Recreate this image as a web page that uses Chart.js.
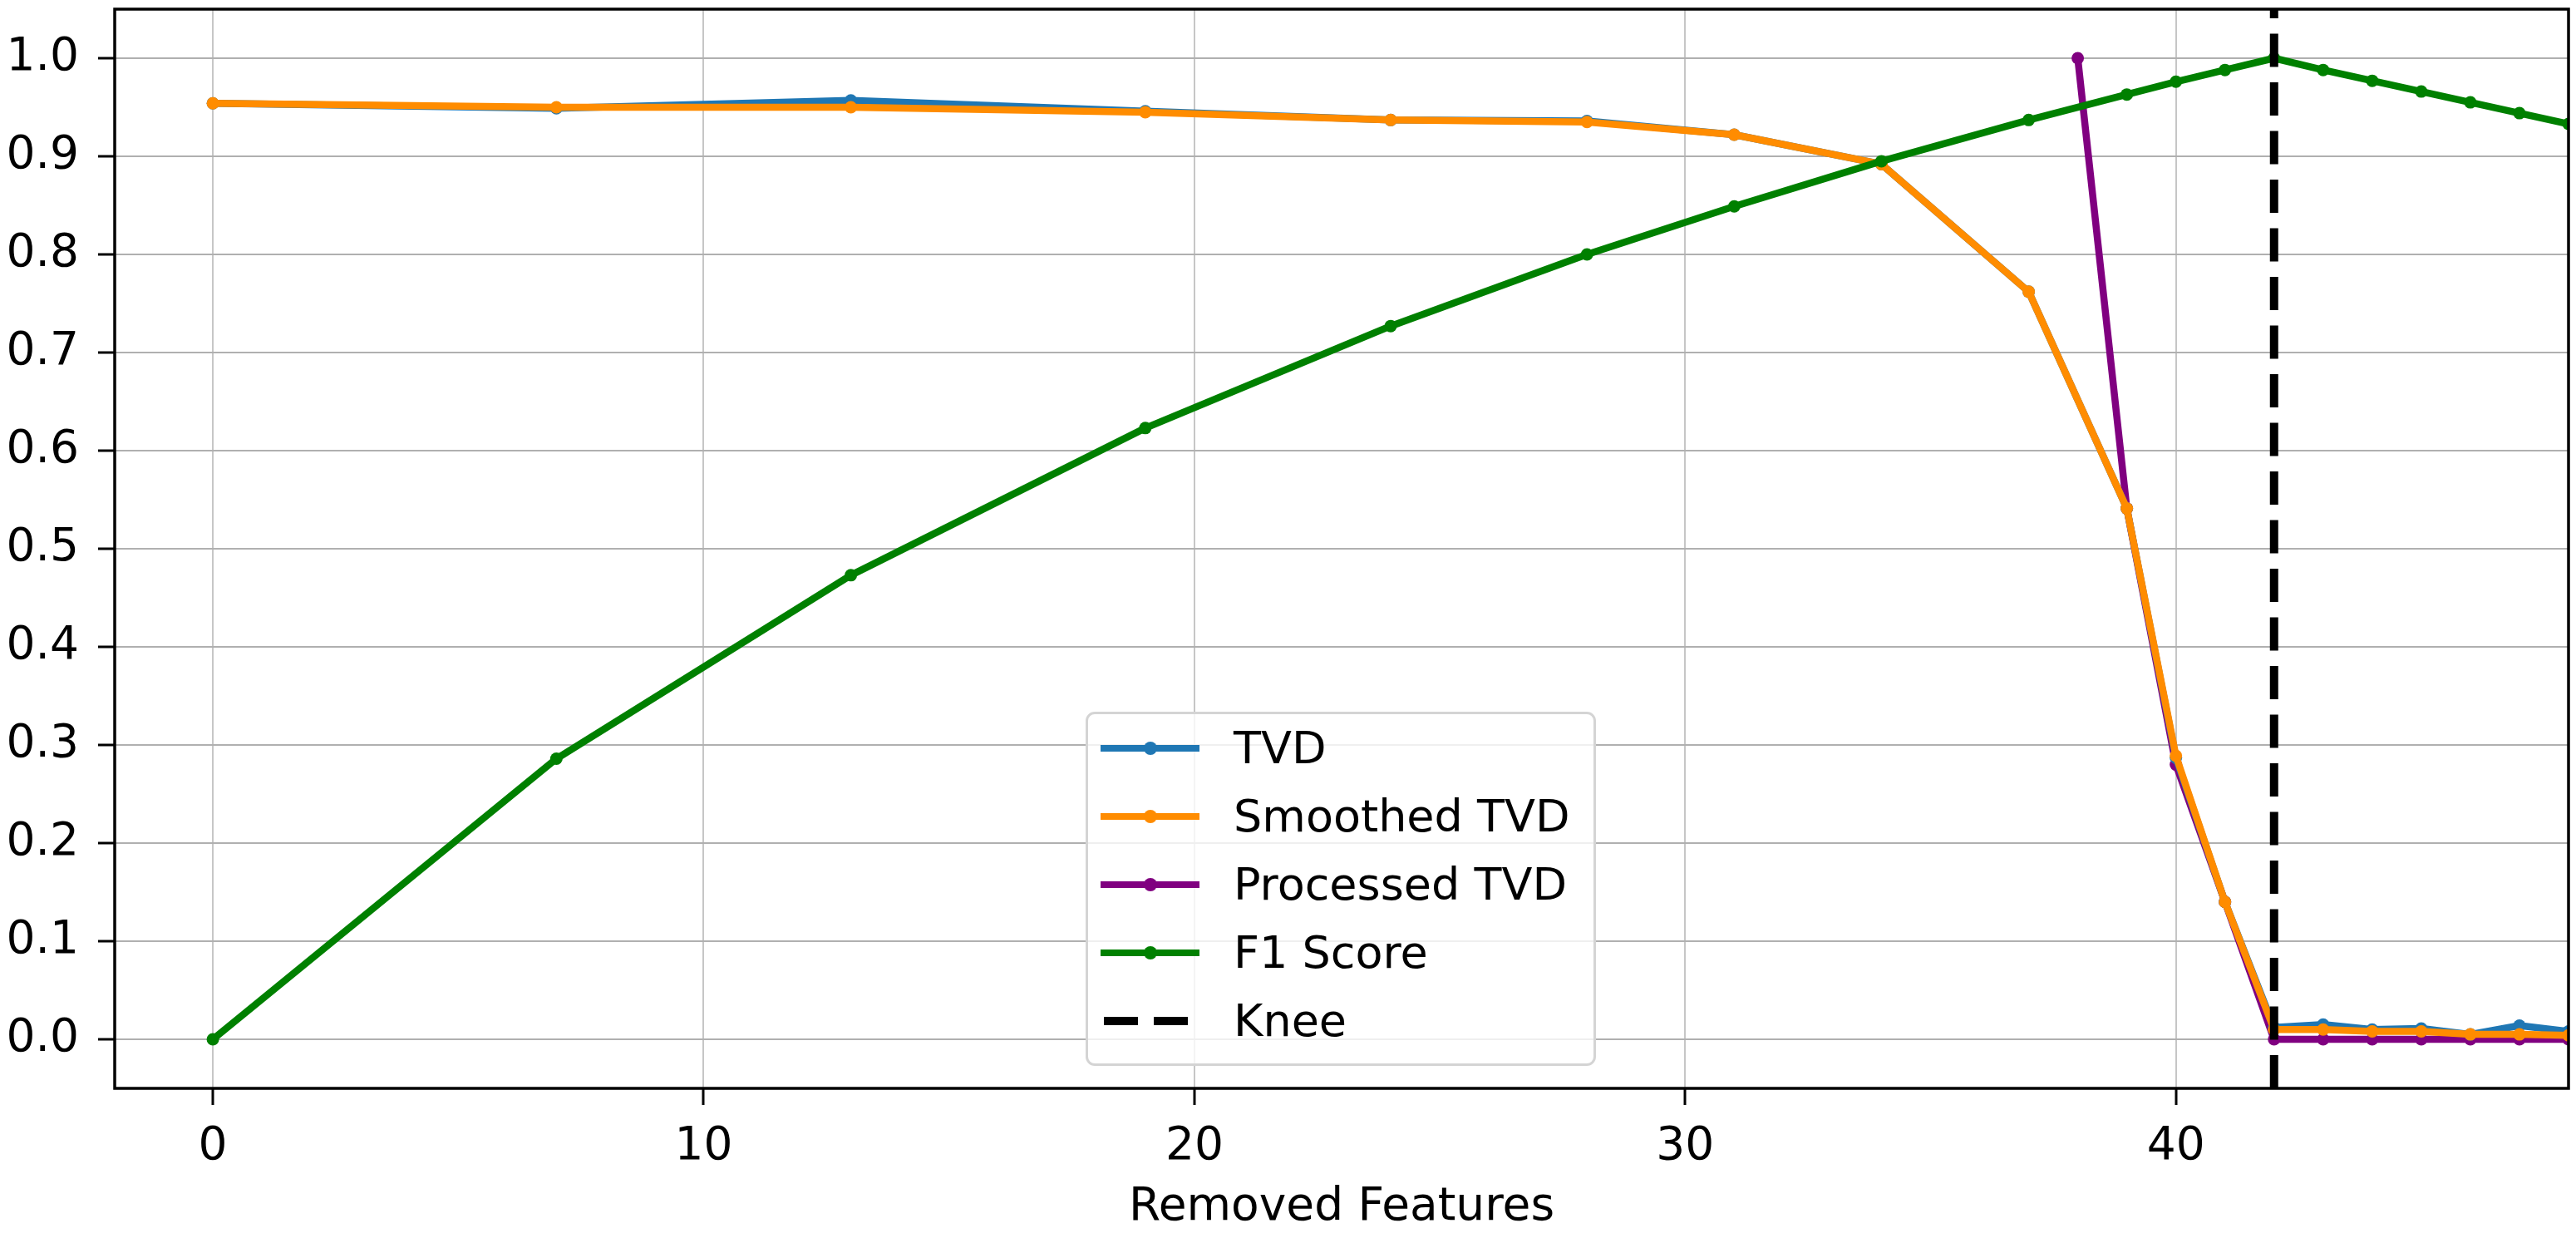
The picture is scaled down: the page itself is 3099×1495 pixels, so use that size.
<!DOCTYPE html>
<html>
<head>
<meta charset="utf-8">
<script src="https://cdn.jsdelivr.net/npm/chart.js@4.4.1/dist/chart.umd.min.js"></script>
<style>
    body { margin: 0; background: #fff; }
    #wrap { position: relative; width: 3099px; height: 1495px; }
    #legend {
        position: absolute; left: 1306px; top: 856px; width: 608px; height: 420px;
        border: 3px solid #d4d4d4; border-radius: 11px; background: rgba(255, 255, 255, 0.8);
        font-family: "DejaVu Sans"; font-size: 54px; color: #000;
    }
    .row { position: absolute; left: 0; width: 100%; height: 82px; }
    .sample { position: absolute; left: 15px; top: 37px; width: 119px; height: 8px; }
    .dot { position: absolute; left: 52px; top: -4px; width: 16px; height: 16px; border-radius: 50%; }
    .label { position: absolute; left: 175px; top: 0; line-height: 82px; white-space: nowrap; }
</style>
</head>
<body>
<div id="wrap">
    <canvas id="kneeChart" width="3099" height="1495"></canvas>
    <div id="legend"></div>
</div>
<script>
// values
const xValues = [0, 7, 13, 19, 24, 28, 31, 34, 37, 39, 40, 41, 42, 43, 44, 45, 46, 47, 48];
const tvd = [0.954, 0.949, 0.957, 0.946, 0.937, 0.936, 0.922, 0.892, 0.762, 0.541, 0.287, 0.140, 0.012, 0.015, 0.010, 0.011, 0.005, 0.014, 0.008];
const smoothedTvd = [0.954, 0.950, 0.950, 0.945, 0.937, 0.935, 0.922, 0.892, 0.762, 0.541, 0.289, 0.140, 0.010, 0.010, 0.008, 0.008, 0.005, 0.005, 0.004];
const processedX = [38, 39, 40, 41, 42, 43, 44, 45, 46, 47, 48];
const processedTvd = [1.0, 0.541, 0.280, 0.140, 0, 0, 0, 0, 0, 0, 0];
const f1Score = [0, 0.286, 0.473, 0.623, 0.727, 0.800, 0.849, 0.895, 0.937, 0.963, 0.976, 0.988, 1.0, 0.988, 0.977, 0.966, 0.955, 0.944, 0.933];
const kneeX = 42;

const xTicks = [0, 10, 20, 30, 40];
const yTicks = [0.0, 0.1, 0.2, 0.3, 0.4, 0.5, 0.6, 0.7, 0.8, 0.9, 1.0];
const xMin = -2, xMax = 48;
const yMin = -0.05, yMax = 1.05;

function toPoints(xs, ys) {
    return xs.map((x, i) => ({ x: x, y: ys[i] }));
}

function series(label, xs, ys, color, order) {
    return {
        label: label,
        data: toPoints(xs, ys),
        borderColor: color,
        backgroundColor: color,
        borderWidth: 8.5,
        pointRadius: 7.5,
        pointBorderWidth: 0,
        pointBackgroundColor: color,
        borderJoinStyle: 'round',
        borderCapStyle: 'round',
        clip: 0,
        order: order
    };
}

// matplotlib-like box round the plot area
const framePlugin = {
    id: 'frame',
    afterDatasetsDraw(chart) {
        const { ctx, chartArea: a } = chart;
        ctx.save();
        ctx.strokeStyle = '#000';
        ctx.lineWidth = 3.5;
        ctx.strokeRect(a.left, a.top, a.right - a.left, a.bottom - a.top);
        ctx.restore();
    }
};

const font = { family: 'DejaVu Sans', size: 55 };

const ctx = document.getElementById('kneeChart').getContext('2d');
const chart = new Chart(ctx, {
    type: 'line',
    data: {
        datasets: [
            series('TVD', xValues, tvd, '#1f77b4', 3),
            series('Smoothed TVD', xValues, smoothedTvd, '#ff8c00', 2),
            series('Processed TVD', processedX, processedTvd, '#800080', 4),
            series('F1 Score', xValues, f1Score, '#008000', 1),
            {
                label: 'Knee',
                data: [{ x: kneeX, y: yMin }, { x: kneeX, y: yMax }],
                borderColor: '#000',
                backgroundColor: '#000',
                borderWidth: 10,
                borderDash: [40, 18.5],
                borderCapStyle: 'butt',
                pointRadius: 0,
                clip: 0,
                order: 0
            }
        ]
    },
    options: {
        responsive: false,
        devicePixelRatio: 1,
        animation: false,
        layout: { padding: { top: 11, right: 9, left: 0, bottom: 0 } },
        plugins: {
            legend: { display: false },
            tooltip: { enabled: false }
        },
        scales: {
            x: {
                type: 'linear',
                min: xMin,
                max: xMax,
                afterFit: (scale) => {
                    scale.height = 186;
                    scale.paddingLeft = 0;
                    scale.paddingRight = 0;
                },
                afterBuildTicks: (scale) => { scale.ticks = xTicks.map(v => ({ value: v })); },
                border: { display: false },
                grid: { color: '#c6c6c6', lineWidth: 2, tickLength: 20, tickColor: '#000', tickWidth: 3 },
                ticks: { font: font, color: '#000', padding: 18, maxRotation: 0, autoSkip: false,
                         callback: (v) => String(v) },
                title: { display: true, text: 'Removed Features', font: font, color: '#000', padding: { top: 0, bottom: 9 } }
            },
            y: {
                type: 'linear',
                min: yMin,
                max: yMax,
                afterFit: (scale) => {
                    scale.width = 138;
                    scale.paddingTop = 0;
                    scale.paddingBottom = 0;
                },
                afterBuildTicks: (scale) => { scale.ticks = yTicks.map(v => ({ value: v })); },
                border: { display: false },
                grid: { color: '#b0b0b0', lineWidth: 2, tickLength: 20, tickColor: '#000', tickWidth: 3 },
                ticks: { font: font, color: '#000', padding: 23, autoSkip: false,
                         callback: (v) => Number(v).toFixed(1) }
            }
        }
    },
    plugins: [framePlugin]
});

// html legend, built from the datasets
const legend = document.getElementById('legend');
chart.data.datasets.forEach((ds, i) => {
    const row = document.createElement('div');
    row.className = 'row';
    row.style.top = (i * 82) + 'px';
    const sample = document.createElement('div');
    sample.className = 'sample';
    if (ds.borderDash) {
        sample.style.top = '36px';
        sample.style.height = '10px';
        sample.style.left = '19px';
        sample.style.width = '101px';
        sample.style.background = 'repeating-linear-gradient(to right, #000 0 41px, transparent 41px 60px)';
    } else {
        sample.style.background = ds.borderColor;
        const dot = document.createElement('div');
        dot.className = 'dot';
        dot.style.background = ds.borderColor;
        sample.appendChild(dot);
    }
    const label = document.createElement('div');
    label.className = 'label';
    label.textContent = ds.label;
    row.appendChild(sample);
    row.appendChild(label);
    legend.appendChild(row);
});
</script>
</body>
</html>
